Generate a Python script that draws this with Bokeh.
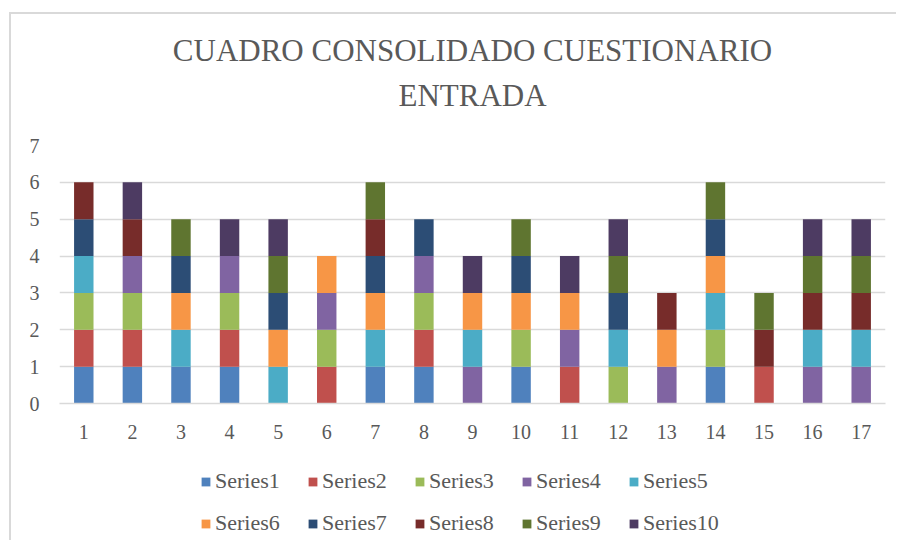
from bokeh.plotting import figure
from bokeh.layouts import column
from bokeh.models import Range1d, FixedTicker, Legend, Title
from bokeh.embed import file_html
from bokeh.resources import INLINE

categories = list(range(1, 18))
series_names = ["Series1", "Series2", "Series3", "Series4", "Series5",
                "Series6", "Series7", "Series8", "Series9", "Series10"]
series1 = [1, 1, 1, 1, 0, 0, 1, 1, 0, 1, 0, 0, 0, 1, 0, 0, 0]
series2 = [1, 1, 0, 1, 0, 1, 0, 1, 0, 0, 1, 0, 0, 0, 1, 0, 0]
series3 = [1, 1, 0, 1, 0, 1, 0, 1, 0, 1, 0, 1, 0, 1, 0, 0, 0]
series4 = [0, 1, 0, 1, 0, 1, 0, 1, 1, 0, 1, 0, 1, 0, 0, 1, 1]
series5 = [1, 0, 1, 0, 1, 0, 1, 0, 1, 0, 0, 1, 0, 1, 0, 1, 1]
series6 = [0, 0, 1, 0, 1, 1, 1, 0, 1, 1, 1, 0, 1, 1, 0, 0, 0]
series7 = [1, 0, 1, 0, 1, 0, 1, 1, 0, 1, 0, 1, 0, 1, 0, 0, 0]
series8 = [1, 1, 0, 0, 0, 0, 1, 0, 0, 0, 0, 0, 1, 0, 1, 1, 1]
series9 = [0, 0, 1, 0, 1, 0, 1, 0, 0, 1, 0, 1, 0, 1, 1, 1, 1]
series10 = [0, 1, 0, 1, 1, 0, 0, 0, 1, 0, 1, 1, 0, 0, 0, 1, 1]
colors = ["#4F81BD", "#C0504D", "#9BBB59", "#8064A2", "#4BACC6",
          "#F79646", "#2C4D75", "#772C2A", "#5F7530", "#4D3B62"]
y_ticks = [0, 1, 2, 3, 4, 5, 6, 7]

FONT = "Liberation Serif"
GRAY = "#595959"
GRID = "#D9D9D9"

data = {"x": categories}
for name, vals in zip(series_names, [series1, series2, series3, series4, series5,
                                      series6, series7, series8, series9, series10]):
    data[name] = vals

# ---- main chart ----
p = figure(width=885, height=445, output_backend="svg", toolbar_location=None,
           x_range=Range1d(0.5, 17.5), y_range=Range1d(0, 7),
           min_border_left=48, min_border_right=11, min_border_top=131,
           min_border_bottom=56)
p.outline_line_color = None
p.background_fill_color = "white"
p.border_fill_color = "white"

p.vbar_stack(series_names, x="x", width=0.4, color=colors,
             line_color=None, source=data)

p.xaxis.ticker = FixedTicker(ticks=categories)
p.yaxis.ticker = FixedTicker(ticks=y_ticks)
for ax in (p.xaxis, p.yaxis):
    ax.major_tick_line_color = None
    ax.minor_tick_line_color = None
    ax.major_tick_out = 0
    ax.major_tick_in = 0
    ax.major_label_text_font = FONT
    ax.major_label_text_font_size = "20px"
    ax.major_label_text_color = GRAY
p.xaxis.axis_line_color = GRID
p.xaxis.axis_line_width = 1.5
p.yaxis.axis_line_color = None
p.xaxis.major_label_standoff = 21
p.yaxis.major_label_standoff = 20
p.xgrid.grid_line_color = None
p.ygrid.grid_line_color = GRID
p.ygrid.grid_line_width = 1.5

t2 = Title(text="ENTRADA", align="center", offset=-11, text_font=FONT,
           text_font_size="31px", text_font_style="normal", text_color=GRAY,
           standoff=65)
t1 = Title(text="CUADRO CONSOLIDADO CUESTIONARIO", align="center", offset=-11,
           text_font=FONT, text_font_size="31px", text_font_style="normal",
           text_color=GRAY, standoff=-49)
p.add_layout(t2, "above")
p.add_layout(t1, "above")

# ---- legend strip (same series; bars lie outside this strip's y range) ----
p2 = figure(width=885, height=81, output_backend="svg", toolbar_location=None,
            x_range=Range1d(0.5, 17.5), y_range=Range1d(100, 101),
            x_axis_type=None, y_axis_type=None, min_border=0)
p2.outline_line_color = None
p2.background_fill_color = "white"
p2.border_fill_color = "white"
p2.xgrid.grid_line_color = None
p2.ygrid.grid_line_color = None
leg_renderers = p2.vbar_stack(series_names, x="x", width=0.4, color=colors,
                              line_color=None, source=data)

legend = Legend(items=[(n, [r]) for n, r in zip(series_names, leg_renderers)],
                location=(141, 4), orientation="horizontal", ncols=5,
                label_text_font=FONT, label_text_font_size="22px",
                label_text_color=GRAY, glyph_width=11, glyph_height=11,
                label_standoff=4, label_width=76, spacing=16, padding=0, margin=0,
                border_line_color=None, background_fill_alpha=0)
p2.add_layout(legend, "center")

layout = column(p, p2, spacing=0,
                styles={"margin-left": "9px", "margin-top": "12px",
                        "border-left": f"2px solid {GRID}",
                        "border-top": f"2px solid {GRID}"})

open("out.html", "w").write(file_html(layout, INLINE))
